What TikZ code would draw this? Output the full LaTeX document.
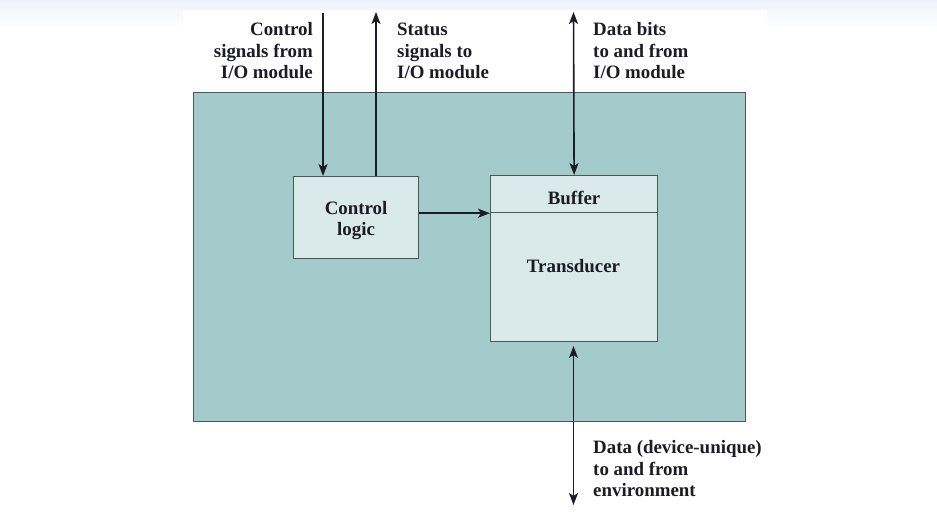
\documentclass[tikz,border=0pt]{standalone}
\usepackage{fontspec}
\setmainfont{Liberation Serif}
\usetikzlibrary{arrows.meta,calc}
\definecolor{outerfill}{HTML}{A3CBCB}
\definecolor{innerfill}{HTML}{DAEAEA}
\definecolor{edge}{HTML}{4A5858}
\definecolor{ink}{HTML}{1C1C26}
\definecolor{topband}{HTML}{EDF2FA}
\tikzset{
  outerbox/.style={draw=edge,line width=1.4pt,fill=outerfill,rectangle,anchor=north west,inner sep=0pt},
  innerbox/.style={draw=edge,line width=1.2pt,fill=innerfill,rectangle,anchor=north west,inner sep=0pt},
  lbl/.style={font=\fontsize{18.9}{21.5}\selectfont\bfseries,text=ink,inner sep=0pt},
  tip/.tip={Stealth[length=12pt,width=9pt,inset=3pt]},
  arr/.style={draw=ink,line width=1.6pt,-tip},
  arrb/.style={draw=ink,line width=1.6pt,tip-tip},
  plain/.style={draw=ink,line width=1.6pt}
}
\begin{document}
\begin{tikzpicture}[x=1pt,y=-1pt]
\useasboundingbox (0,0) rectangle (937,513);
\shade[top color=topband,bottom color=white] (0,0) rectangle (937,28);
\fill[white] (183,10) rectangle (767,513);

\node[outerbox,minimum width=552pt,minimum height=329pt] (dev) at (193,92) {};
\node[innerbox,minimum width=125pt,minimum height=82pt] (ctrl) at (293,176) {};
\node[lbl,align=center] (ctrltxt) at ($(ctrl.center)+(0,3)$) {Control\\logic};
\node[innerbox,minimum width=167pt,minimum height=37pt] (buf) at (490,175) {};
\node[lbl] (buftxt) at ($(buf.center)+(0,4)$) {Buffer};
\node[innerbox,minimum width=167pt,minimum height=129pt] (trans) at (490,212) {};
\node[lbl] (transtxt) at (573.5,266) {Transducer};

\coordinate (ctop) at (323,13);
\coordinate (stop) at (376,12);
\coordinate (dtop) at (573.5,12);
\coordinate (btop) at (573.5,346);
\coordinate (bbot) at (573.5,505);

\draw[arr] (ctop) -- (ctop |- ctrl.north);
\draw[arr] (stop |- ctrl.north) -- (stop);
\draw[arrb] (dtop) -- (buf.north);
\draw[arrb] (btop) -- (bbot);
\draw[arr] (buf.south west -| ctrl.east) -- (buf.south west);

\node[lbl,align=right,anchor=east] (l1) at (313,51) {Control\\signals from\\I/O module};
\node[lbl,align=left,anchor=west] (l2) at (397,51) {Status\\signals to\\I/O module};
\node[lbl,align=left,anchor=west] (l3) at (593,51) {Data bits\\to and from\\I/O module};
\node[lbl,align=left,anchor=west] (l4) at (593,469) {Data (device-unique)\\to and from\\environment};
\end{tikzpicture}
\end{document}
